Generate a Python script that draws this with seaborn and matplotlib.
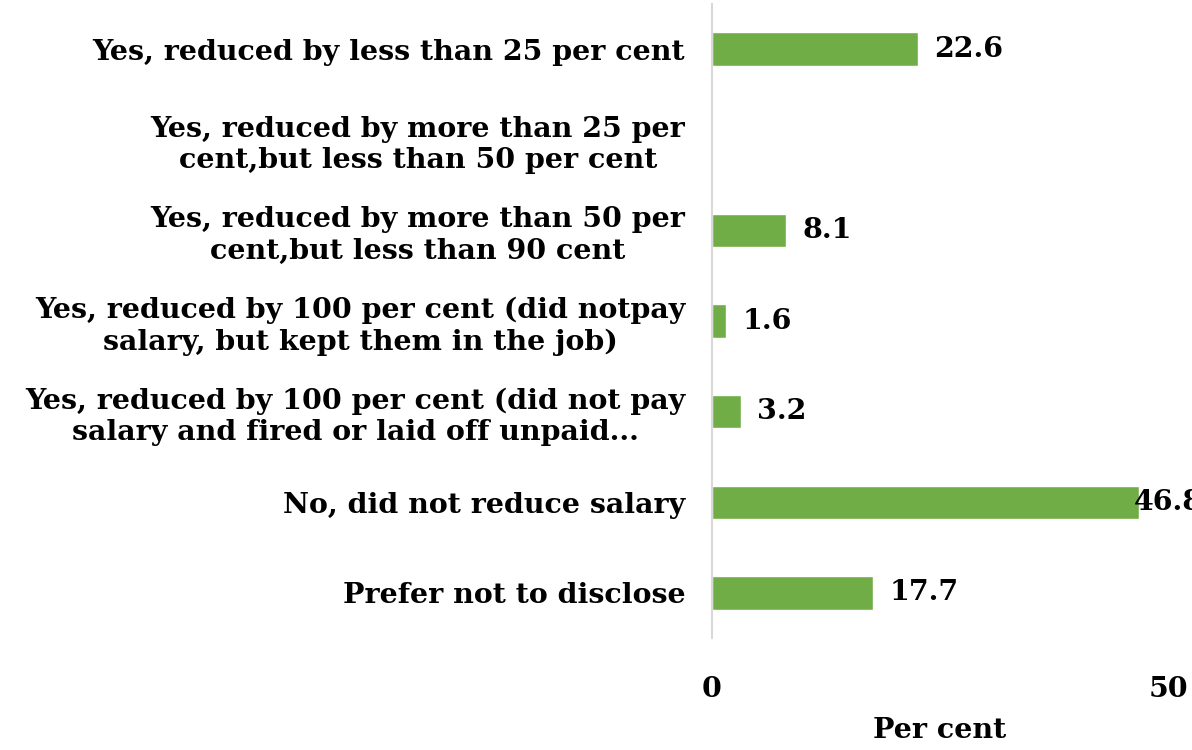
import pandas as pd
import numpy as np
import matplotlib.pyplot as plt
import seaborn as sns

# data
categories = [
    "Yes, reduced by less than 25 per cent",
    "Yes, reduced by more than 25 per\ncent,but less than 50 per cent",
    "Yes, reduced by more than 50 per\ncent,but less than 90 cent",
    "Yes, reduced by 100 per cent (did notpay\nsalary, but kept them in the job)",
    "Yes, reduced by 100 per cent (did not pay\nsalary and fired or laid off unpaid...",
    "No, did not reduce salary",
    "Prefer not to disclose",
]
values = [22.6, np.nan, 8.1, 1.6, 3.2, 46.8, 17.7]
x_ticks = [0, 50]

df = pd.DataFrame({"Category": categories, "Per cent": values})

sns.set_style("white")
plt.rcParams['font.family'] = ['DejaVu Serif']
plt.rcParams['font.weight'] = 'bold'
plt.rcParams['text.color'] = 'black'
plt.rcParams['axes.labelcolor'] = 'black'
plt.rcParams['xtick.color'] = 'black'
plt.rcParams['ytick.color'] = 'black'

fs = 20.5

fig = plt.figure(figsize=(11.92, 7.5), dpi=100)
ax = fig.add_axes([0.597, 0.149, 0.383, 0.846])

sns.barplot(data=df, y="Category", x="Per cent", order=categories,
            color="#70AD47", saturation=1, width=0.37, ax=ax)

# data labels (pulled back when near the right edge, like Excel does)
for i, v in enumerate(values):
    if not np.isnan(v):
        xpos = v + 1.8 if v + 1.8 < 45 else 46.2
        ax.text(xpos, i, f"{v:.1f}", va="center", ha="left",
                fontsize=fs, fontweight="bold", color="black", clip_on=False)

ax.set_xlim(0, 50)
ax.set_ylim(6.5, -0.5)
ax.set_xticks(x_ticks)
ax.set_xticklabels([str(t) for t in x_ticks], fontsize=fs, fontweight="bold")
ax.tick_params(axis="x", length=0, pad=27)
ax.tick_params(axis="y", length=0, pad=19)
for lbl in ax.get_yticklabels():
    lbl.set_fontsize(fs)
    lbl.set_fontweight("bold")
    lbl.set_multialignment("center")
ax.set_ylabel("")
ax.set_xlabel("Per cent", fontsize=fs, fontweight="bold", labelpad=10)

for s in ["top", "right", "bottom"]:
    ax.spines[s].set_visible(False)
ax.spines["left"].set_color("#d9d9d9")
ax.spines["left"].set_linewidth(1.5)

fig.savefig("out.png", dpi=100)
